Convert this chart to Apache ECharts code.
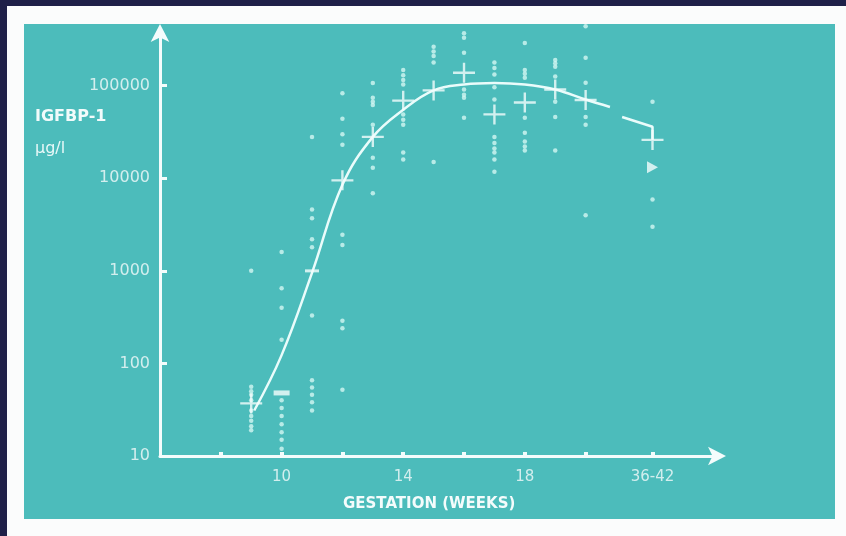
<!DOCTYPE html>
<html><head><meta charset="utf-8">
<script src="https://cdn.jsdelivr.net/npm/echarts@6/dist/echarts.min.js"></script>
<style>html,body{margin:0;padding:0;background:#1f2048;}#c{width:846px;height:536px;}</style>
</head><body><div id="c"></div><script>
// ---- data ----
const weeks = [9, 10, 11, 12, 13, 14, 15, 16, 17, 18, 19, 20];
const termPosition = 22.2;
const termLabel = '36-42';
const xTickValues = [8, 10, 12, 14, 16, 18, 20, 22.2];
const xLabelValues = [10, 14, 18, 22.2];
const yTickValues = [10, 100, 1000, 10000, 100000];

const medians = [37, 48, 1000, 9500, 28000, 69000, 89000, 138000, 49000, 66000, 91000, 70000];
const termMedian = 26000;

const individualValues = [
  [1000, 56, 50, 46, 40, 31, 27, 24, 21, 19],
  [1600, 650, 400, 180, 40, 33, 27, 22, 18, 15, 12],
  [28000, 4600, 3700, 2200, 1800, 330, 66, 55, 46, 38, 31],
  [83000, 44000, 30000, 23000, 2450, 1900, 290, 240, 52],
  [107000, 74000, 67000, 62000, 38000, 16700, 13000, 6900],
  [148000, 130000, 115000, 103000, 49000, 43000, 38000, 19000, 16000],
  [263000, 235000, 210000, 178000, 15000],
  [370000, 330000, 227000, 91000, 80000, 74000, 45000],
  [178000, 155000, 132000, 96000, 71000, 28000, 24000, 21000, 19000, 16000, 11800],
  [290000, 148000, 135000, 122000, 45000, 31000, 25000, 22000, 20000],
  [190000, 175000, 160000, 126000, 67000, 46000, 20000],
  [440000, 200000, 108000, 46000, 38000, 4000]
];
const termValues = [67000, 5900, 3000];
const termTriangleValue = 13200;

const curveWeeks = [9.1, 10, 11, 12, 13, 14, 15, 16, 17, 18, 19, 20, 20.8];
const curveValues = [31, 123, 950, 8500, 28000, 55000, 89000, 103000, 107000, 103000, 91000, 71000, 59000];
const termLinkWeeks = [21.2, 22.2, 22.2];
const termLinkValues = [46000, 36000, 26000];

// ---- build ----
const dotColor = '#d3f6f3';
const lineColor = '#eafcfb';
const labelColor = '#d3eeee';

const dots = [];
weeks.forEach((w, i) => individualValues[i].forEach(v => dots.push([w, v])));
termValues.forEach(v => dots.push([termPosition, v]));

const crossPath = 'path://M0,8.8H22V11.2H0Z M9.8,0H12.2V20H9.8Z';
const barPath = 'path://M0,0H20V5H0Z';
const medianData = weeks.map((w, i) => {
  const d = { value: [w, medians[i]] };
  if (w === 10 || w === 11) { d.symbol = barPath; d.symbolSize = w === 10 ? [16, 5] : [14, 3]; }
  return d;
});
medianData.push({ value: [termPosition, termMedian] });

const chart = echarts.init(document.getElementById('c'));
chart.setOption({
  backgroundColor: '#1f2048',
  animation: false,
  graphic: [
    { type: 'rect', z: -10, shape: { x: 7, y: 6, width: 839, height: 530 }, style: { fill: '#fbfcfc' } },
    { type: 'rect', z: -9, shape: { x: 24, y: 24, width: 811, height: 495 }, style: { fill: '#4cbcbb' } },
    { type: 'text', left: 35, top: 109, style: { text: 'IGFBP-1', fill: '#f2fbfb', font: 'bold 16px "DejaVu Sans"' } },
    { type: 'text', left: 35, top: 141, style: { text: 'µg/l', fill: '#e8f8f8', font: '16px "DejaVu Sans"' } },
    { type: 'text', left: 343, top: 497, style: { text: 'GESTATION (WEEKS)', fill: '#f4fcfc', font: 'bold 15px "DejaVu Sans"' } }
  ],
  grid: { left: 160, right: 126, top: 30, bottom: 80, containLabel: false },
  xAxis: {
    type: 'value', min: 6, max: 24.42,
    splitLine: { show: false },
    axisLine: { onZero: false, lineStyle: { color: '#f4fcfc', width: 3 }, symbol: ['none', 'arrow'], symbolSize: [14, 18], symbolOffset: [0, 6] },
    axisTick: { show: true, inside: true, length: 4, lineStyle: { color: '#f4fcfc', width: 4 }, customValues: xTickValues },
    axisLabel: { customValues: xLabelValues, color: labelColor, fontFamily: 'DejaVu Sans', fontSize: 15, margin: 14,
      formatter: v => (Math.abs(v - termPosition) < 1e-6 ? termLabel : String(v)) }
  },
  yAxis: {
    type: 'log', logBase: 10, min: 10, max: 400000,
    splitLine: { show: false },
    axisLine: { lineStyle: { color: '#f4fcfc', width: 3 }, symbol: ['none', 'arrow'], symbolSize: [14, 18], symbolOffset: [0, 6] },
    axisTick: { show: true, inside: true, length: 7, lineStyle: { color: '#f4fcfc', width: 3 }, customValues: yTickValues },
    axisLabel: { customValues: yTickValues, color: labelColor, fontFamily: 'DejaVu Sans', fontSize: 16, margin: 10,
      formatter: v => String(Math.round(v)) }
  },
  series: [
    { type: 'line', data: curveWeeks.map((w, i) => [w, curveValues[i]]), smooth: 0.4, showSymbol: false,
      lineStyle: { color: lineColor, width: 2.5 }, z: 3, clip: false },
    { type: 'line', data: termLinkWeeks.map((w, i) => [w, termLinkValues[i]]), smooth: false, showSymbol: false,
      lineStyle: { color: lineColor, width: 2.5 }, z: 3, clip: false },
    { type: 'scatter', data: dots, symbol: 'circle', symbolSize: 4.5, itemStyle: { color: dotColor }, z: 4, clip: false },
    { type: 'scatter', data: medianData, symbol: crossPath, symbolSize: [22, 20], itemStyle: { color: '#f4fcfc' }, z: 5, clip: false },
    { type: 'scatter', data: [[termPosition, termTriangleValue]], symbol: 'path://M0,0L10,5L0,10Z', symbolSize: [11, 12],
      itemStyle: { color: '#f4fcfc' }, z: 5, clip: false }
  ]
});
</script></body></html>
